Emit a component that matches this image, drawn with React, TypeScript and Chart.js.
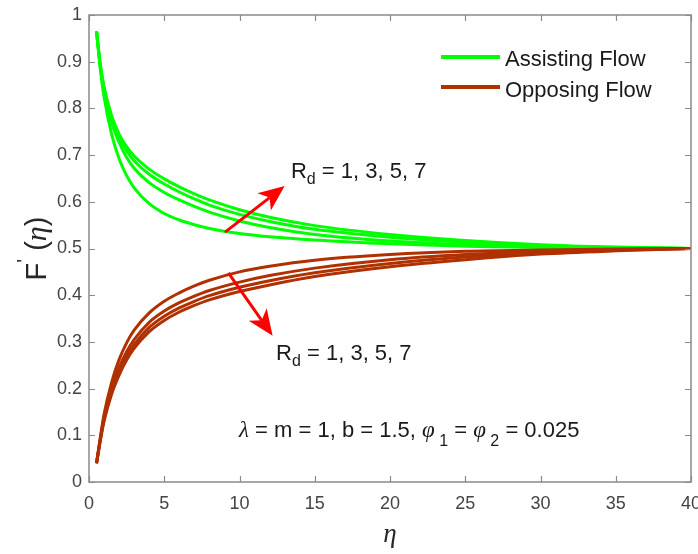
import React, { useEffect, useRef } from 'react';
import { Chart, registerables } from 'chart.js';

Chart.register(...registerables);

// ---- data ----
const eta = [0.5, 0.75, 1, 1.5, 2, 2.5, 3, 4, 5, 6, 7, 8, 10, 12, 15, 20, 25, 30, 35, 40];

const assistingRd1 = [0.965, 0.885, 0.825, 0.745, 0.692, 0.656, 0.63, 0.596, 0.575, 0.561, 0.551, 0.543, 0.532, 0.525, 0.518, 0.51, 0.505, 0.502, 0.501, 0.5];
const assistingRd3 = [0.965, 0.89, 0.837, 0.77, 0.727, 0.695, 0.672, 0.641, 0.62, 0.604, 0.59, 0.578, 0.559, 0.545, 0.53, 0.516, 0.508, 0.503, 0.501, 0.5];
const assistingRd5 = [0.965, 0.893, 0.842, 0.779, 0.738, 0.709, 0.688, 0.659, 0.638, 0.621, 0.606, 0.593, 0.573, 0.558, 0.541, 0.524, 0.513, 0.506, 0.502, 0.5];
const assistingRd7 = [0.965, 0.895, 0.846, 0.785, 0.745, 0.718, 0.698, 0.67, 0.649, 0.632, 0.617, 0.604, 0.583, 0.567, 0.549, 0.53, 0.517, 0.508, 0.503, 0.5];

const opposingRd1 = [0.04, 0.095, 0.145, 0.213, 0.262, 0.298, 0.325, 0.362, 0.387, 0.405, 0.42, 0.432, 0.45, 0.462, 0.475, 0.487, 0.494, 0.497, 0.499, 0.5];
const opposingRd3 = [0.04, 0.092, 0.138, 0.2, 0.245, 0.279, 0.305, 0.342, 0.366, 0.384, 0.398, 0.41, 0.428, 0.442, 0.458, 0.476, 0.487, 0.494, 0.498, 0.5];
const opposingRd5 = [0.04, 0.09, 0.134, 0.193, 0.236, 0.269, 0.294, 0.331, 0.355, 0.373, 0.387, 0.399, 0.417, 0.431, 0.448, 0.468, 0.482, 0.491, 0.497, 0.5];
const opposingRd7 = [0.04, 0.088, 0.13, 0.188, 0.229, 0.261, 0.286, 0.322, 0.346, 0.364, 0.378, 0.39, 0.408, 0.422, 0.44, 0.461, 0.476, 0.488, 0.495, 0.5];

const legendLabels = ['Assisting Flow', 'Opposing Flow'];

// annotation anchors in data coordinates (eta, F')
const arrowUp = { from: [9.04, 0.535], to: [13.0, 0.634] };
const arrowDown = { from: [9.26, 0.448], to: [12.2, 0.313] };
const rdLabelUp = [13.42, 0.651];
const rdLabelDown = [12.43, 0.261];
const paramLabel = [9.97, 0.096];

const GREEN = '#00ff00';
const BROWN = '#b03000';
const SANS = '"Liberation Sans", Arial, sans-serif';
const SERIF = '"Liberation Serif", "Times New Roman", serif';

type Run = { t: string; f: string; dy?: number };

function drawRuns(ctx: CanvasRenderingContext2D, runs: Run[], x: number, y: number, align: 'left' | 'center' = 'left') {
  let w = 0;
  runs.forEach(r => { ctx.font = r.f; w += ctx.measureText(r.t).width; });
  let cx = align === 'center' ? x - w / 2 : x;
  runs.forEach(r => {
    ctx.font = r.f;
    ctx.fillText(r.t, cx, y + (r.dy || 0));
    cx += ctx.measureText(r.t).width;
  });
}

function drawArrow(ctx: CanvasRenderingContext2D, x1: number, y1: number, x2: number, y2: number) {
  const ang = Math.atan2(y2 - y1, x2 - x1);
  const headLen = 26;
  const headHalf = 11;
  const bx = x2 - headLen * Math.cos(ang);
  const by = y2 - headLen * Math.sin(ang);
  const nx = bx + 7 * Math.cos(ang);
  const ny = by + 7 * Math.sin(ang);
  ctx.save();
  ctx.strokeStyle = '#ff0000';
  ctx.fillStyle = '#ff0000';
  ctx.lineWidth = 3;
  ctx.beginPath();
  ctx.moveTo(x1, y1);
  ctx.lineTo(nx, ny);
  ctx.stroke();
  ctx.beginPath();
  ctx.moveTo(x2, y2);
  ctx.lineTo(bx + headHalf * Math.sin(ang), by - headHalf * Math.cos(ang));
  ctx.lineTo(nx, ny);
  ctx.lineTo(bx - headHalf * Math.sin(ang), by + headHalf * Math.cos(ang));
  ctx.closePath();
  ctx.fill();
  ctx.restore();
}

const overlay = {
  id: 'overlay',
  afterDraw(chart: any) {
    const { ctx, chartArea: a, scales } = chart;
    const xs = scales.x;
    const ys = scales.y;
    ctx.save();
    // box + inward ticks
    ctx.strokeStyle = '#8a8a8a';
    ctx.lineWidth = 1.5;
    ctx.strokeRect(a.left, a.top, a.right - a.left, a.bottom - a.top);
    ctx.lineWidth = 1.2;
    ctx.beginPath();
    xs.ticks.forEach((t: any) => {
      const px = Math.round(xs.getPixelForValue(t.value)) + 0.5;
      ctx.moveTo(px, a.bottom); ctx.lineTo(px, a.bottom - 6);
      ctx.moveTo(px, a.top); ctx.lineTo(px, a.top + 6);
    });
    ys.ticks.forEach((t: any) => {
      const py = Math.round(ys.getPixelForValue(t.value)) + 0.5;
      ctx.moveTo(a.left, py); ctx.lineTo(a.left + 6, py);
      ctx.moveTo(a.right, py); ctx.lineTo(a.right - 6, py);
    });
    ctx.stroke();

    // legend
    const lx1 = a.right - 250, lx2 = a.right - 191, tx = a.right - 186;
    const rows = [
      { c: GREEN, ly: a.top + 42, ty: a.top + 50.5 },
      { c: BROWN, ly: a.top + 72, ty: a.top + 81.5 },
    ];
    rows.forEach((r, i) => {
      ctx.strokeStyle = r.c;
      ctx.lineWidth = 4;
      ctx.beginPath();
      ctx.moveTo(lx1, r.ly); ctx.lineTo(lx2, r.ly);
      ctx.stroke();
      ctx.fillStyle = '#1a1a1a';
      ctx.font = `22px ${SANS}`;
      ctx.textBaseline = 'alphabetic';
      ctx.textAlign = 'left';
      ctx.fillText(legendLabels[i], tx, r.ty);
    });

    // arrows
    const P = (p: number[]) => [xs.getPixelForValue(p[0]), ys.getPixelForValue(p[1])];
    const a1 = P(arrowUp.from), a2 = P(arrowUp.to);
    drawArrow(ctx, a1[0], a1[1], a2[0], a2[1]);
    const b1 = P(arrowDown.from), b2 = P(arrowDown.to);
    drawArrow(ctx, b1[0], b1[1], b2[0], b2[1]);

    // annotation texts
    ctx.fillStyle = '#1a1a1a';
    ctx.textBaseline = 'alphabetic';
    ctx.textAlign = 'left';
    const main = `22px ${SANS}`;
    const sub = `16px ${SANS}`;
    const greek = `italic 23px ${SERIF}`;
    const rdRuns: Run[] = [
      { t: 'R', f: main },
      { t: 'd', f: sub, dy: 6 },
      { t: ' = 1, 3, 5, 7', f: main },
    ];
    const r1 = P(rdLabelUp);
    drawRuns(ctx, rdRuns, r1[0], r1[1]);
    const r2 = P(rdLabelDown);
    drawRuns(ctx, rdRuns, r2[0], r2[1]);
    const pl = P(paramLabel);
    drawRuns(ctx, [
      { t: 'λ', f: greek },
      { t: ' = m = 1, b = 1.5, ', f: main },
      { t: 'φ', f: greek },
      { t: ' 1', f: sub, dy: 9 },
      { t: ' = ', f: main },
      { t: 'φ', f: greek },
      { t: ' 2', f: sub, dy: 9 },
      { t: ' = 0.025', f: main },
    ], pl[0], pl[1]);

    // axis titles
    ctx.fillStyle = '#262626';
    drawRuns(ctx, [{ t: 'η', f: `italic 27px ${SERIF}` }], (a.left + a.right) / 2, a.bottom + 60, 'center');
    ctx.save();
    ctx.translate(46, (a.top + a.bottom) / 2);
    ctx.rotate(-Math.PI / 2);
    drawRuns(ctx, [
      { t: 'F', f: `29px ${SANS}` },
      { t: "'", f: `20px ${SANS}`, dy: -15 },
      { t: ' (', f: `29px ${SANS}` },
      { t: 'η', f: `italic 30px ${SERIF}` },
      { t: ')', f: `29px ${SANS}` },
    ], 0, 0, 'center');
    ctx.restore();
    ctx.restore();
  },
};

function series(vals: number[]) {
  return vals.map((v, i) => ({ x: eta[i], y: v }));
}

export default function App() {
  const ref = useRef<HTMLCanvasElement | null>(null);
  useEffect(() => {
    if (!ref.current) return;
    const mk = (vals: number[], color: string) => ({
      data: series(vals),
      borderColor: color,
      backgroundColor: color,
      borderWidth: 3,
      pointRadius: 0,
      fill: false,
      cubicInterpolationMode: 'monotone' as const,
    });
    const chart = new Chart(ref.current, {
      type: 'line',
      data: {
        datasets: [
          mk(opposingRd1, BROWN),
          mk(opposingRd3, BROWN),
          mk(opposingRd5, BROWN),
          mk(opposingRd7, BROWN),
          mk(assistingRd1, GREEN),
          mk(assistingRd3, GREEN),
          mk(assistingRd5, GREEN),
          mk(assistingRd7, GREEN),
        ],
      },
      options: {
        responsive: false,
        animation: false,
        layout: { padding: { left: 0, top: 15, right: 7, bottom: 0 } },
        plugins: { legend: { display: false }, tooltip: { enabled: false } },
        scales: {
          x: {
            type: 'linear',
            min: 0,
            max: 40,
            grid: { display: false, drawTicks: false },
            border: { display: false },
            ticks: { stepSize: 5, color: '#444', font: { family: SANS, size: 18 }, padding: 11, maxRotation: 0 },
            afterFit: (s: any) => { s.height = 72; s.paddingLeft = 0; s.paddingRight = 0; },
          },
          y: {
            type: 'linear',
            min: 0,
            max: 1,
            grid: { display: false, drawTicks: false },
            border: { display: false },
            ticks: {
              stepSize: 0.1,
              color: '#444',
              font: { family: SANS, size: 18 },
              padding: 7,
              callback: (v: any) => String(Math.round(Number(v) * 10) / 10),
            },
            afterFit: (s: any) => { s.width = 89; s.paddingTop = 0; s.paddingBottom = 0; },
          },
        },
      },
      plugins: [overlay],
    } as any);
    return () => chart.destroy();
  }, []);
  return (
    <div style={{ position: 'absolute', left: 0, top: 0, width: 698, height: 554, background: '#fff' }}>
      <canvas ref={ref} width={698} height={554} style={{ display: 'block' }} />
    </div>
  );
}
